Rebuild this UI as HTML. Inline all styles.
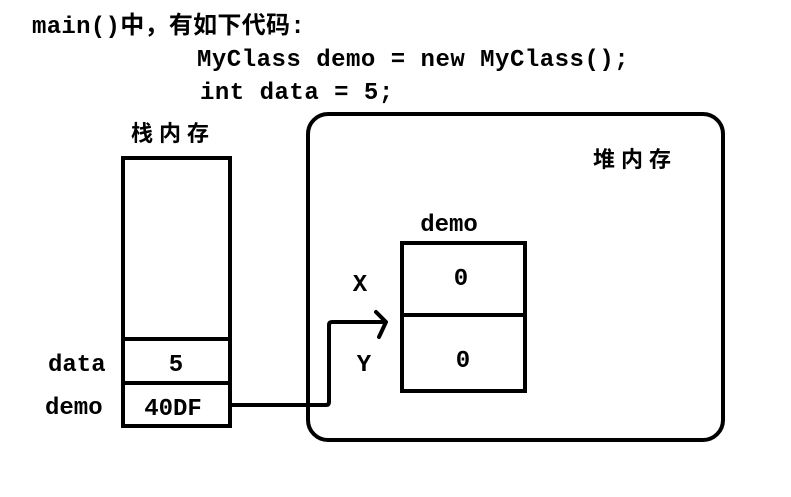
<!DOCTYPE html>
<html><head><meta charset="utf-8"><style>
html,body{margin:0;padding:0;background:#fff;}
svg{display:block;}
text{font-family:"Liberation Mono","Noto Sans CJK SC",monospace;font-weight:bold;fill:#000;}
</style></head><body>
<svg width="791" height="497" viewBox="0 0 791 497" xmlns="http://www.w3.org/2000/svg">
<text x="32" y="33" font-size="24" letter-spacing="0.3">main()中，有如下代码:</text>
<text x="197" y="66" font-size="24" letter-spacing="0.5">MyClass demo = new MyClass();</text>
<text x="200" y="99" font-size="24" letter-spacing="0.5">int data = 5;</text>
<text x="131" y="141" font-size="22" letter-spacing="6">栈内存</text>
<text x="593" y="167" font-size="22" letter-spacing="6">堆内存</text>
<g fill="none" stroke="#000" stroke-width="4">
<rect x="123" y="158" width="107" height="268"/>
<line x1="123" y1="339" x2="230" y2="339"/>
<line x1="123" y1="383" x2="230" y2="383"/>
<rect x="308" y="114" width="415" height="326" rx="20"/>
<rect x="402" y="243" width="123" height="148"/>
<line x1="402" y1="315" x2="525" y2="315"/>
<path d="M230 405 H326 Q329 405 329 402 V325 Q329 322 332 322 H386" stroke-linejoin="round"/>
<path d="M376 312 L386 322 L379 337" stroke-linecap="round" stroke-linejoin="round"/>
</g>
<text x="48" y="371" font-size="24">data</text>
<text x="45" y="414" font-size="24">demo</text>
<text x="176" y="371" font-size="24" text-anchor="middle">5</text>
<text x="173" y="415" font-size="24" text-anchor="middle">40DF</text>
<text x="449" y="231" font-size="24" text-anchor="middle">demo</text>
<text x="360" y="291" font-size="24" text-anchor="middle">X</text>
<text x="364" y="371" font-size="24" text-anchor="middle">Y</text>
<text x="461" y="285" font-size="24" text-anchor="middle">0</text>
<text x="463" y="367" font-size="24" text-anchor="middle">0</text>
</svg>
</body></html>
